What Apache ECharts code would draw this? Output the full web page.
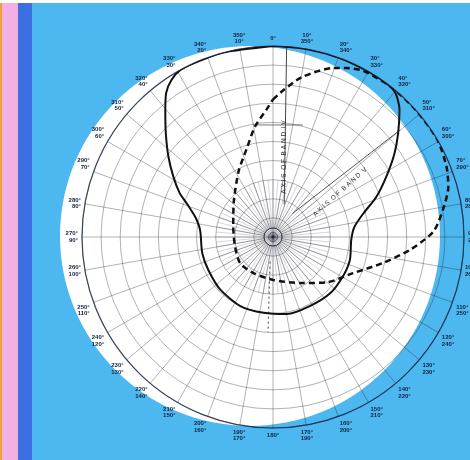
<!DOCTYPE html>
<html><head><meta charset="utf-8">
<script src="https://cdn.jsdelivr.net/npm/echarts@6/dist/echarts.min.js"></script>
<style>
html,body{margin:0;padding:0;}
#c{width:470px;height:460px;
background:linear-gradient(to bottom,#ffffff 0,#ffffff 3px,rgba(0,0,0,0) 3px),
linear-gradient(to right,#f0a038 0,#f0a038 2px,#f3b1e3 2px,#f3b1e3 18px,#3b6fe2 18px,#3b6fe2 32px,#4db8ef 32px);}
</style></head>
<body><div id="c"></div>
<script>
// Angle tick labels (clockwise from top, every 10°)
const angleTicks = [0,10,20,30,40,50,60,70,80,90,100,110,120,130,140,150,160,170,180,190,200,210,220,230,240,250,260,270,280,290,300,310,320,330,340,350];
const angleLabels = ['0°','10°\n350°','20°\n340°','30°\n330°','40°\n320°','50°\n310°','60°\n300°','70°\n290°','80°\n280°','90°\n270°','100°\n260°','110°\n250°','120°\n240°','130°\n230°','140°\n220°','150°\n210°','160°\n200°','170°\n190°','180°','190°\n170°','200°\n160°','210°\n150°','220°\n140°','230°\n130°','240°\n120°','250°\n110°','260°\n100°','270°\n90°','280°\n80°','290°\n70°','300°\n60°','310°\n50°','320°\n40°','330°\n30°','340°\n20°','350°\n10°'];

// Solid pattern (angle in degrees, relative radius)
const solidAngles = [0,10,20,30,36.6,40.3,44.8,50.4,55.6,62.1,68.8,75.3,82.8,92,106.6,119.5,134.6,152,169.8,187,205.3,225,243,257,273,278,284.4,291.3,295.2,301.2,307.5,314,319.6,323.5,327.2,331,336,345,360];
const solidRadii  = [1.0,1.0,1.0,1.0,1.0,0.99,0.94,0.85,0.77,0.67,0.58,0.49,0.43,0.41,0.42,0.42,0.42,0.41,0.41,0.40,0.40,0.39,0.38,0.38,0.38,0.39,0.42,0.485,0.54,0.61,0.69,0.78,0.87,0.94,0.98,1.0,1.0,1.0,1.0];

// Dashed pattern
const dashedAngles = [0,4,10.2,19.7,23.6,28.4,38.4,48.5,59.4,68,74,81,88.1,95.4,103.4,114.3,129.8,149.4,179.6,208.5,231.4,255.7,284.5,313,332.6,343.2,350.7,357.2,360];
const dashedRadii  = [0.72,0.77,0.85,0.94,0.965,0.99,1.0,1.0,1.0,0.98,0.955,0.90,0.84,0.72,0.59,0.46,0.37,0.28,0.225,0.215,0.22,0.205,0.215,0.28,0.39,0.48,0.585,0.67,0.72];

// Reference lines (axes of bands)
const bandIVAngles = [4.1,19];
const bandIVRadii  = [1.0,0.18];
const bandIVLowAngles = [186.8,183];
const bandIVLowRadii  = [0.13,0.50];
const bandVAngles = [39.8,49.9];
const bandVRadii  = [0.16,0.87];
const crossAngles = [349.9,15];
const crossRadii  = [0.596,0.607];

const pair = (r,a)=>r.map((v,i)=>[v,a[i]]);

const chart = echarts.init(document.getElementById('c'),null,{renderer:'canvas'});
const C=[273,237], R=191;
const gridCol='rgba(25,30,45,0.38)';
const font='Liberation Sans';
chart.setOption({
  backgroundColor:'transparent',
  animation:false,
  graphic:[
    {type:'circle',z:-10,shape:{cx:250,cy:236,r:190},style:{fill:'#ffffff'}},
    {type:'text',z:5,x:340,y:192,rotation:42*Math.PI/180,
     style:{text:'A X I S  O F  B A N D  V',fill:'#333',font:'6.5px "Liberation Sans"',align:'center',verticalAlign:'middle'}},
    {type:'text',z:5,x:284,y:157,rotation:Math.PI/2,
     style:{text:'A X I S  O F  B A N D  I V',fill:'#333',font:'6.5px "Liberation Sans"',align:'center',verticalAlign:'middle'}}
  ],
  polar:[
    {center:C,radius:R},
    {center:C,radius:[9,57]},
    {center:C,radius:9}
  ],
  angleAxis:[
    {polarIndex:0,type:'value',min:0,max:360,interval:10,startAngle:90,clockwise:true,
     axisLine:{lineStyle:{color:'rgba(15,25,60,0.75)',width:1.2}},
     axisTick:{show:false},
     axisLabel:{margin:4,fontSize:6,fontWeight:'bold',fontFamily:font,color:'#14203e',lineHeight:6.5,
       formatter:v=>{const i=angleTicks.indexOf(v);return i<0?'':angleLabels[i];}},
     splitLine:{lineStyle:{color:gridCol,width:0.9}}},
    {polarIndex:1,type:'value',min:0,max:360,interval:5,startAngle:90,clockwise:true,
     axisLine:{show:false},axisTick:{show:false},axisLabel:{show:false},
     splitLine:{lineStyle:{color:'rgba(25,30,45,0.3)',width:0.6}}},
    {polarIndex:2,type:'value',min:0,max:360,interval:90,startAngle:90,clockwise:true,
     axisLine:{lineStyle:{color:'rgba(25,30,45,0.6)',width:1}},axisTick:{show:false},axisLabel:{show:false},
     splitLine:{lineStyle:{color:'rgba(25,30,45,0.5)',width:0.8}}}
  ],
  radiusAxis:[
    {polarIndex:0,type:'value',min:0,max:1,interval:0.1,axisLine:{show:false},axisTick:{show:false},axisLabel:{show:false},
     splitLine:{lineStyle:{color:gridCol,width:0.9}}},
    {polarIndex:1,type:'value',min:0,max:1,axisLine:{show:false},axisTick:{show:false},axisLabel:{show:false},splitLine:{show:false}},
    {polarIndex:2,type:'value',min:0,max:1,interval:0.5,axisLine:{show:false},axisTick:{show:false},axisLabel:{show:false},
     splitLine:{lineStyle:{color:'rgba(25,30,45,0.6)',width:0.9}}}
  ],
  series:[
    {type:'line',coordinateSystem:'polar',polarIndex:0,data:pair(crossRadii,crossAngles),symbol:'none',
     lineStyle:{color:'#555',width:0.8},z:3},
    {type:'line',coordinateSystem:'polar',polarIndex:0,data:pair(bandIVRadii,bandIVAngles),symbol:'none',
     lineStyle:{color:'#444',width:1},z:3},
    {type:'line',coordinateSystem:'polar',polarIndex:0,data:pair(bandIVLowRadii,bandIVLowAngles),symbol:'none',
     lineStyle:{color:'#444',width:1,type:[2,3]},z:3},
    {type:'line',coordinateSystem:'polar',polarIndex:0,data:pair(bandVRadii,bandVAngles),symbol:'none',
     lineStyle:{color:'#444',width:0.9},z:3},
    {type:'line',coordinateSystem:'polar',polarIndex:0,data:pair(solidRadii,solidAngles),symbol:'none',smooth:0.25,
     lineStyle:{color:'#111',width:2},z:4},
    {type:'line',coordinateSystem:'polar',polarIndex:0,data:pair(dashedRadii,dashedAngles),symbol:'none',smooth:0.25,
     lineStyle:{color:'#111',width:2.5,type:[6,4]},z:4}
  ]
});
</script></body></html>
